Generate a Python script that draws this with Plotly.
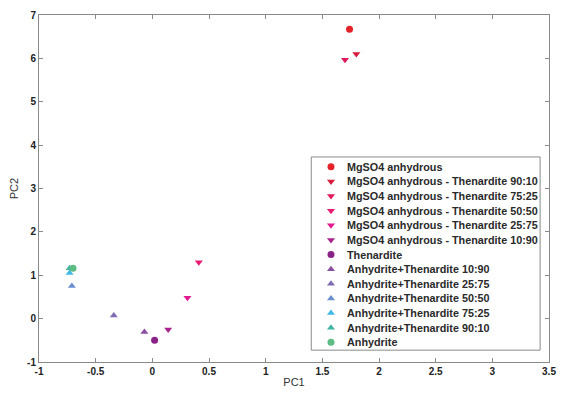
import plotly.graph_objects as go

names = ["MgSO4 anhydrous",
         "MgSO4 anhydrous - Thenardite 90:10",
         "MgSO4 anhydrous - Thenardite 75:25",
         "MgSO4 anhydrous - Thenardite 50:50",
         "MgSO4 anhydrous - Thenardite 25:75",
         "MgSO4 anhydrous - Thenardite 10:90",
         "Thenardite",
         "Anhydrite+Thenardite 10:90",
         "Anhydrite+Thenardite 25:75",
         "Anhydrite+Thenardite 50:50",
         "Anhydrite+Thenardite 75:25",
         "Anhydrite+Thenardite 90:10",
         "Anhydrite"]
pc1 = [1.74, 1.80, 1.70, 0.41, 0.31, 0.14, 0.02, -0.07, -0.34, -0.71, -0.73, -0.73, -0.70]
pc2 = [6.67, 6.10, 5.97, 1.30, 0.48, -0.25, -0.50, -0.31, 0.07, 0.75, 1.05, 1.16, 1.16]
symbols = ["circle", "triangle-down", "triangle-down", "triangle-down", "triangle-down",
           "triangle-down", "circle", "triangle-up", "triangle-up", "triangle-up",
           "triangle-up", "triangle-up", "circle"]
colors = ["#e52229", "#d81c3f", "#e0195a", "#e81a74", "#e01a90", "#a8248c", "#8a2388",
          "#8a4fa0", "#7f6cb5", "#6a8fcf", "#41b8e6", "#40b5a5", "#5dbb84"]

x_ticks = [-1, -0.5, 0, 0.5, 1, 1.5, 2, 2.5, 3, 3.5]
x_ticklabels = ["-1", "-0.5", "0", "0.5", "1", "1.5", "2", "2.5", "3", "3.5"]
y_ticks = [-1, 0, 1, 2, 3, 4, 5, 6, 7]
y_ticklabels = ["-1", "0", "1", "2", "3", "4", "5", "6", "7"]

W, H = 563, 394
L, R, T, B = 39, 7, 15, 27
PW, PH = W - L - R, H - T - B

def px2paper_x(px):
    return (px - L) / PW

def px2paper_y(py):
    return (H - B - py) / PH

fig = go.Figure()
for n, x, y, s, c in zip(names, pc1, pc2, symbols, colors):
    fig.add_trace(go.Scatter(x=[x], y=[y], mode="markers", name=n, showlegend=False,
                             marker=dict(symbol=s, color=c, size=7, line=dict(width=0))))

# custom legend (compact spacing like the reference)
box_l, box_r, box_t, box_b = 315, 547, 159, 355
row0, step = 169, 14.83
mark_x, text_x = 335, 349
leg_x, leg_y = [], []
for i, n in enumerate(names):
    yy = row0 + i * step
    leg_x.append(px2paper_x(mark_x))
    leg_y.append(px2paper_y(yy))
    fig.add_annotation(x=px2paper_x(text_x), y=px2paper_y(yy), xref="paper", yref="paper",
                       text="<b>" + n + "</b>", showarrow=False, xanchor="left", yanchor="middle",
                       font=dict(family="Liberation Sans", size=10.8, color="#2a2a2a"))
fig.add_shape(type="rect", xref="paper", yref="paper",
              x0=px2paper_x(box_l), x1=px2paper_x(box_r),
              y0=px2paper_y(box_b), y1=px2paper_y(box_t),
              line=dict(color="#8a8a8a", width=1), fillcolor="white", layer="below")
fig.add_trace(go.Scatter(x=leg_x, y=leg_y, xaxis="x2", yaxis="y2", mode="markers",
                         showlegend=False, hoverinfo="skip", cliponaxis=False,
                         marker=dict(symbol=symbols, color=colors, size=7, line=dict(width=0))))

axis_common = dict(showgrid=False, zeroline=False, showline=True, mirror="ticks",
                   linecolor="#8a8a8a", linewidth=1, ticks="inside", ticklen=4,
                   tickcolor="#8a8a8a",
                   tickfont=dict(family="Liberation Sans", size=10, color="#222", weight="bold"))
fig.update_xaxes(range=[-1, 3.5], tickvals=x_ticks, ticktext=x_ticklabels,
                 title=dict(text="PC1", font=dict(family="Liberation Sans", size=11, color="#333"), standoff=2),
                 **axis_common)
fig.update_yaxes(range=[-1, 7], tickvals=y_ticks, ticktext=y_ticklabels,
                 title=dict(text="PC2", font=dict(family="Liberation Sans", size=11, color="#333"), standoff=6),
                 **axis_common)
fig.update_layout(
    width=W, height=H,
    margin=dict(l=L, r=R, t=T, b=B),
    paper_bgcolor="white", plot_bgcolor="white",
    showlegend=False,
    xaxis2=dict(overlaying="x", range=[0, 1], visible=False, fixedrange=True),
    yaxis2=dict(overlaying="y", range=[0, 1], visible=False, fixedrange=True),
)
fig.write_html("out.html")
